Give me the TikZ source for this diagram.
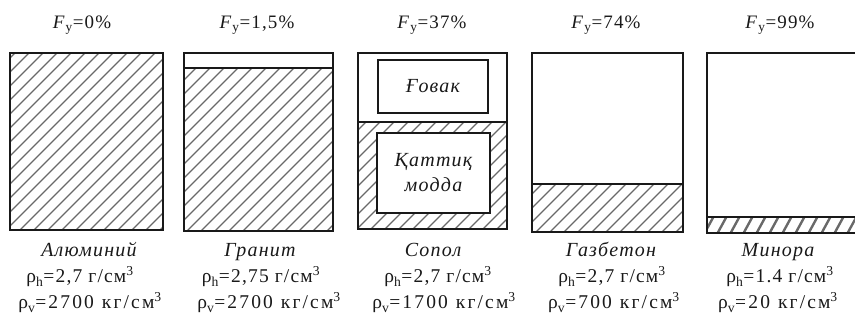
\documentclass[tikz,border=0pt]{standalone}
\usepackage{fontspec}
\setmainfont{Liberation Serif}
\newfontfamily\labelfont[LetterSpace=6]{Liberation Serif}
\newfontfamily\widefont[LetterSpace=11]{Liberation Serif}
\usetikzlibrary{positioning}
\definecolor{InkBlack}{RGB}{25, 25, 25}
\definecolor{HatchGray}{RGB}{105, 105, 105}

\begin{document}
\begin{tikzpicture}[x=1pt, y=-1pt,
    wall/.style={draw=InkBlack, line width=2.2pt},
    hatch/.style={HatchGray, line width=1.3pt},
    innerbox/.style={draw=InkBlack, fill=white, line width=2pt, inner sep=0pt, align=center,
      font=\labelfont\fontsize{20}{25}\selectfont\itshape, text=InkBlack},
    title/.style={anchor=base, inner sep=0pt, text=InkBlack, font=\labelfont\fontsize{19}{22}\selectfont},
    matname/.style={anchor=base, inner sep=0pt, text=InkBlack, font=\labelfont\fontsize{20}{22}\selectfont\itshape},
    dens/.style={anchor=base, inner sep=0pt, text=InkBlack, font=\labelfont\fontsize{19.5}{22}\selectfont},
    wdens/.style={dens, font=\widefont\fontsize{19.5}{22}\selectfont}]
  \useasboundingbox (0,0) rectangle (855,323);

  % Hatched solid parts
  \begin{scope}
    \clip (10,53) rectangle (163,230) (184,68) rectangle (333,231)
          (358,122) rectangle (507,229) (532,184) rectangle (683,232);
    \foreach \k in {-200,-186,...,700}
      \draw[hatch] (\k,240) -- ++(200,-200);
  \end{scope}
  \begin{scope}
    \clip (707,217) rectangle (870,233);
    \foreach \k in {690,703,...,870}
      \draw[hatch, line width=2.4pt] (\k,236) -- ++(12,-22);
  \end{scope}

  % Outlines
  \draw[wall] (10,53) rectangle (163,230);
  \draw[wall] (184,53) rectangle (333,231);
  \draw[wall] (184,68) -- (333,68);
  \draw[wall] (358,53) rectangle (507,229);
  \draw[wall] (358,122) -- (507,122);
  \draw[wall] (532,53) rectangle (683,232);
  \draw[wall] (532,184) -- (683,184);
  \draw[wall] (707,53) rectangle (870,233);
  \draw[wall] (707,217) -- (870,217);

  % Pore and solid inside the middle sample
  \node[innerbox, minimum width=110pt, minimum height=53pt] (pore) at (433,86.5) {Ғовак};
  \node[innerbox, minimum width=113pt, minimum height=80pt] (solid) at (433.5,173) {Қаттиқ\\модда};

  % Porosity titles
  \node[title] (ttl1) at (82,29) {\textit{F}\textsubscript{у}=0\%};
  \node[title] (ttl2) at (257,29) {\textit{F}\textsubscript{у}=1,5\%};
  \node[title] (ttl3) at (432,29) {\textit{F}\textsubscript{у}=37\%};
  \node[title] (ttl4) at (606,29) {\textit{F}\textsubscript{у}=74\%};
  \node[title] (ttl5) at (780,29) {\textit{F}\textsubscript{у}=99\%};

  % Materials
  \node[matname] (mat1) at (89,257) {Алюминий};
  \node[matname] (mat2) at (260,257) {Гранит};
  \node[matname] (mat3) at (433,257) {Сопол};
  \node[matname] (mat4) at (611,257) {Газбетон};
  \node[matname] (mat5) at (778,257) {Минора};

  % Densities
  \node[dens] (rhoh1) at (80,283) {ρ\textsubscript{h}=2,7 г/см\textsuperscript{3}};
  \node[dens] (rhoh2) at (261,283) {ρ\textsubscript{h}=2,75 г/см\textsuperscript{3}};
  \node[dens] (rhoh3) at (438,283) {ρ\textsubscript{h}=2,7 г/см\textsuperscript{3}};
  \node[dens] (rhoh4) at (612,283) {ρ\textsubscript{h}=2,7 г/см\textsuperscript{3}};
  \node[dens] (rhoh5) at (780,283) {ρ\textsubscript{h}=1.4 г/см\textsuperscript{3}};
  \node[wdens] (rhov1) at (90,309) {ρ\textsubscript{v}=2700\hspace{8pt}кг/см\textsuperscript{3}};
  \node[wdens] (rhov2) at (269,309) {ρ\textsubscript{v}=2700\hspace{8pt}кг/см\textsuperscript{3}};
  \node[wdens] (rhov3) at (444,309) {ρ\textsubscript{v}=1700\hspace{8pt}кг/см\textsuperscript{3}};
  \node[wdens] (rhov4) at (614,309) {ρ\textsubscript{v}=700\hspace{8pt}кг/см\textsuperscript{3}};
  \node[wdens] (rhov5) at (778,309) {ρ\textsubscript{v}=20\hspace{8pt}кг/см\textsuperscript{3}};
\end{tikzpicture}
\end{document}
